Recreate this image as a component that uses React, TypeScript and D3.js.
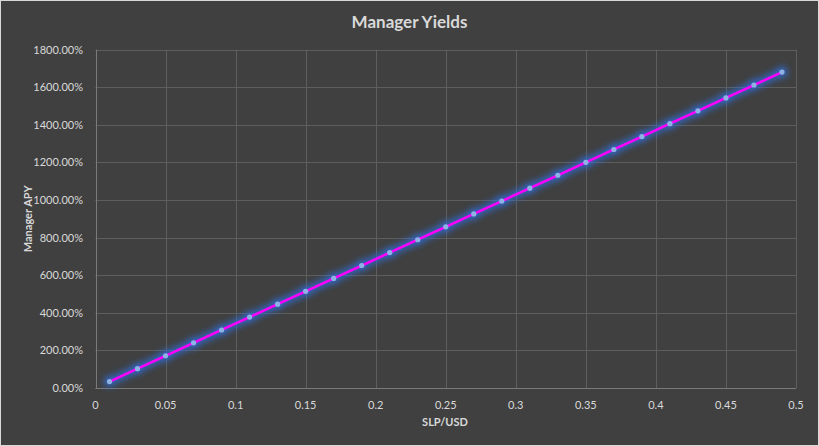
import React from "react";
import * as d3 from "d3";

const slpUsd = [0.01, 0.03, 0.05, 0.07, 0.09, 0.11, 0.13, 0.15, 0.17, 0.19, 0.21, 0.23, 0.25, 0.27, 0.29, 0.31, 0.33, 0.35, 0.37, 0.39, 0.41, 0.43, 0.45, 0.47, 0.49];
const managerApy = [34.3, 102.9, 171.5, 240.1, 308.7, 377.3, 445.9, 514.5, 583.1, 651.7, 720.3, 788.9, 857.5, 926.1, 994.7, 1063.3, 1131.9, 1200.5, 1269.1, 1337.7, 1406.3, 1474.9, 1543.5, 1612.1, 1680.7];
const xTicks = [0, 0.05, 0.1, 0.15, 0.2, 0.25, 0.3, 0.35, 0.4, 0.45, 0.5];
const yTicks = [0, 200, 400, 600, 800, 1000, 1200, 1400, 1600, 1800];
const title = "Manager Yields";
const xTitle = "SLP/USD";
const yTitle = "Manager APY";

const W = 819, H = 446;
const font = "Lato, 'Open Sans', sans-serif";
const txt = "#d9d9d9";

export default function App() {
  const x = d3.scaleLinear().domain([0, 0.5]).range([95.5, 796]);
  const y = d3.scaleLinear().domain([0, 1800]).range([388, 49.7]);
  const pts = slpUsd.map((v, i) => [v, managerApy[i]] as [number, number]);
  const line = d3.line<[number, number]>().x(d => x(d[0])).y(d => y(d[1]));
  const path = line(pts) || "";
  return (
    <svg width={W} height={H} style={{ position: "absolute", left: 0, top: 0, display: "block" }}>
      <defs>
        <filter id="glow" x="-10%" y="-10%" width="120%" height="120%">
          <feGaussianBlur stdDeviation="3.5" />
        </filter>
      </defs>
      <rect x={0} y={0} width={W} height={H} fill="#404040" />
      <rect x={0.5} y={0.5} width={W - 1} height={H - 1} fill="none" stroke="#d9d9d9" strokeWidth={1} />
      {yTicks.map(t => (
        <line key={"gy" + t} x1={x(0)} x2={x(0.5)} y1={Math.round(y(t)) + 0.5} y2={Math.round(y(t)) + 0.5} stroke="#5e5e5e" strokeWidth={1} />
      ))}
      {xTicks.map(t => (
        <line key={"gx" + t} x1={Math.round(x(t)) + 0.5} x2={Math.round(x(t)) + 0.5} y1={y(1800)} y2={y(0)} stroke="#5e5e5e" strokeWidth={1} />
      ))}
      <line x1={Math.round(x(0)) + 0.5} x2={Math.round(x(0)) + 0.5} y1={y(1800)} y2={y(0)} stroke="#7a7a7a" />
      <line x1={x(0)} x2={x(0.5)} y1={Math.round(y(0)) + 0.5} y2={Math.round(y(0)) + 0.5} stroke="#7a7a7a" />
      {yTicks.map(t => (
        <text key={"ty" + t} x={83} y={y(t) + 4} textAnchor="end" fontFamily={font} fontSize={11} fill={txt}>
          {t.toFixed(2) + "%"}
        </text>
      ))}
      {xTicks.map(t => (
        <text key={"tx" + t} x={x(t)} y={409} textAnchor="middle" fontFamily={font} fontSize={11} fill={txt}>
          {String(t)}
        </text>
      ))}
      <text x={W / 2} y={28} textAnchor="middle" fontFamily={font} fontSize={17} fontWeight="bold" fill={txt}>{title}</text>
      <text x={445} y={426} textAnchor="middle" fontFamily={font} fontSize={11} fontWeight="bold" fill={txt}>{xTitle}</text>
      <text transform={`translate(32,${y(900)}) rotate(-90)`} textAnchor="middle" fontFamily={font} fontSize={11} fontWeight="bold" fill={txt}>{yTitle}</text>
      <g filter="url(#glow)">
        <path d={path} fill="none" stroke="#2f6fe0" strokeWidth={7} strokeOpacity={0.9} />
        {pts.map((p, i) => (
          <circle key={"gc" + i} cx={x(p[0])} cy={y(p[1])} r={5} fill="#2f6fe0" />
        ))}
      </g>
      <path d={path} fill="none" stroke="#ff00ff" strokeWidth={2.5} />
      {pts.map((p, i) => (
        <circle key={"c" + i} cx={x(p[0])} cy={y(p[1])} r={2.6} fill="#8fb2e6" />
      ))}
    </svg>
  );
}
